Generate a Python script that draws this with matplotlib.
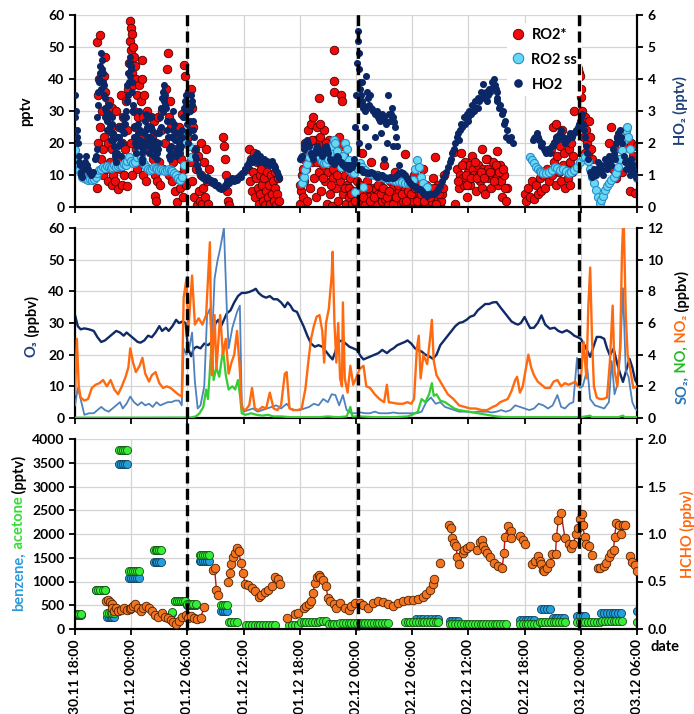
import numpy as np
import matplotlib
matplotlib.use("Agg")
import matplotlib.pyplot as plt
from matplotlib.lines import Line2D
from matplotlib.ticker import FormatStrFormatter

plt.rcParams["font.family"] = ["Lato", "DejaVu Sans"]
plt.rcParams["font.weight"] = "bold"
plt.rcParams["axes.labelweight"] = "bold"

nan = np.nan

# time axis: hours after 30.11 18:00
tick_hours = [0, 6, 12, 18, 24, 30, 36, 42, 48, 54, 60]
tick_labels = ["30.11 18:00", "01.12 00:00", "01.12 06:00", "01.12 12:00",
               "01.12 18:00", "02.12 00:00", "02.12 06:00", "02.12 12:00",
               "02.12 18:00", "03.12 00:00", "03.12 06:00"]
event_hours = [11.93, 30.25, 53.8]

# ---- panel 1: peroxy radicals ----
ro2_star = [
    (2.3, 6), (2.4, 51.7), (2.5, 20), (2.5, 35), (2.6, 40), (2.7, 53.8), (2.7, 25), (2.8, 15),
    (2.9, 30), (3.0, 18), (3.0, 10), (3.1, 22), (3.1, 41), (3.2, 36), (3.2, 47), (3.3, 12),
    (3.4, 28), (3.5, 8), (3.5, 20), (3.6, 33), (3.7, 14), (3.8, 25), (3.9, 7), (3.9, 18),
    (4.0, 31), (4.1, 10), (4.2, 22), (4.3, 8), (4.4, 30), (4.5, 15), (4.6, 5.5), (4.7, 25),
    (4.8, 12), (4.9, 35), (5.0, 20), (5.0, 7), (5.1, 28), (5.2, 10), (5.3, 18), (5.4, 33),
    (5.5, 6.5), (5.5, 24), (5.6, 14), (5.7, 37), (5.8, 45), (5.9, 52), (5.9, 58), (6.0, 56),
    (6.0, 49), (6.1, 54), (6.1, 42), (6.2, 50), (6.2, 38), (6.3, 47), (6.3, 30), (6.4, 44),
    (6.4, 25), (6.5, 40), (6.5, 18), (6.6, 35), (6.6, 12), (6.7, 28), (6.0, 20), (6.1, 10),
    (6.8, 38), (6.9, 22), (7.0, 33), (7.0, 15), (7.1, 46), (7.2, 40), (7.3, 28), (7.3, 10),
    (7.4, 35), (7.5, 20), (7.6, 8), (7.7, 30), (7.8, 18), (7.9, 25), (8.0, 12), (8.1, 28),
    (8.2, 22), (8.3, 15), (8.4, 27), (8.5, 3.5), (8.5, 10), (8.6, 2), (8.7, 20), (8.8, 8),
    (8.9, 28), (9.0, 14), (9.1, 7), (9.2, 24), (9.3, 30), (9.4, 12), (9.6, 20), (9.7, 37),
    (9.8, 43), (9.9, 48), (10.0, 28), (10.0, 10), (10.1, 33), (10.2, 18), (10.3, 25), (10.4, 8),
    (10.5, 14), (10.6, 22), (10.7, 5), (10.8, 18), (10.9, 1.5), (11.0, 10), (11.1, 25), (11.2, 6),
    (11.3, 15), (11.4, 29), (11.5, 3), (11.6, 44.5), (11.6, 12), (11.7, 41), (11.8, 20), (11.8, 7),
    (12.0, 30), (12.1, 22), (12.2, 36), (12.3, 14), (12.4, 37), (12.5, 31), (12.5, 8), (12.6, 25),
    (12.7, 3), (12.8, 18), (12.9, 12), (13.0, 0.5), (13.1, 16), (13.2, 5), (13.3, 2), (13.4, 10),
    (13.5, 20), (13.6, 1), (13.7, 6), (13.8, 14), (13.9, 3), (14.0, 18), (14.1, 8), (14.2, 1),
    (14.3, 12), (15.8, 22), (15.9, 19), (16.0, 15), (16.1, 10), (16.2, 5), (16.3, 2), (16.4, 0.5),
    (18.5, 12), (18.6, 18), (18.7, 8), (18.8, 15), (18.9, 5), (19.0, 11), (19.1, 17), (19.2, 3),
    (19.3, 9), (19.4, 14), (19.5, 6), (19.6, 1), (19.7, 10), (19.8, 4), (19.9, 12), (20.0, 7),
    (20.1, 2), (20.2, 9), (20.3, 0.5), (20.4, 5), (20.5, 11), (20.6, 3), (20.7, 7), (20.8, 1),
    (20.9, 10), (21.0, 4), (21.1, 8), (21.2, 2), (21.3, 6), (21.4, 11), (21.5, 0.5), (21.6, 4),
    (21.7, 9), (21.8, 2),
    (24.0, 1), (24.1, 5), (24.2, 10), (24.3, 3), (24.4, 15), (24.5, 8), (24.6, 20), (24.7, 12),
    (24.8, 2), (24.9, 24), (25.0, 17), (25.1, 6), (25.2, 26), (25.3, 14), (25.4, 28), (25.5, 9),
    (25.6, 21), (25.7, 3), (25.8, 25), (25.9, 16), (26.0, 11), (26.1, 34), (26.2, 22), (26.3, 5),
    (26.4, 19), (26.5, 13), (26.6, 24), (26.7, 8), (26.8, 17), (26.9, 1), (27.0, 11), (27.1, 21),
    (27.2, 4), (27.3, 15), (27.4, 0.3), (27.5, 9), (27.6, 36), (27.7, 49), (27.7, 39.5), (27.8, 18),
    (27.9, 6), (28.0, 13), (28.1, 2), (28.2, 22), (28.3, 8), (28.4, 35), (28.5, 33), (28.6, 4),
    (28.7, 16), (28.8, 10), (28.9, 1), (29.0, 7),
    (24.05, 7), (24.35, 12), (24.65, 16), (24.95, 19), (25.25, 21), (25.55, 18), (25.85, 14), (26.15, 26),
    (26.45, 9), (26.75, 20), (27.05, 16), (27.35, 7), (27.55, 12), (27.95, 10), (28.25, 15), (28.55, 19),
    (28.85, 6),
    (29.2, 3), (29.3, 6), (29.4, 9), (29.6, 1), (29.8, 5), (30.0, 12), (30.1, 8), (30.2, 2),
    (30.4, 7), (30.6, 16.8), (30.8, 4), (31.0, 0.5), (31.1, 4.5), (31.2, 8), (31.4, 3), (31.6, 14),
    (31.8, 6), (32.0, 1), (32.1, 5.5), (32.2, 10), (32.4, 4), (32.6, 7), (32.8, 2), (33.0, 13),
    (33.1, 2.5), (33.2, 5), (33.4, 0.5), (33.6, 8), (33.8, 3), (34.0, 6), (34.1, 4), (34.2, 11),
    (34.4, 1), (34.6, 5), (34.8, 9), (35.0, 2), (35.1, 6), (35.2, 16.5), (35.4, 4), (35.6, 7),
    (35.8, 0.5), (36.0, 3), (36.1, 2), (36.2, 10), (36.4, 5), (36.6, 1), (36.8, 8), (37.0, 2),
    (37.1, 6), (37.2, 12), (37.4, 4), (37.6, 0.5), (37.8, 6), (38.0, 2), (38.1, 4.5), (38.2, 9),
    (38.4, 15.7), (38.6, 3), (38.8, 7), (39.0, 0.5), (39.1, 2), (39.2, 4), (39.4, 10),
    (29.5, 4), (29.9, 2), (30.3, 5), (30.7, 3), (31.3, 6), (31.5, 2), (31.9, 3), (32.3, 7),
    (32.7, 4), (32.9, 6), (33.3, 3), (33.5, 5), (33.9, 1), (34.3, 3), (34.5, 7), (34.9, 4),
    (35.3, 2), (35.5, 5), (35.9, 4), (36.3, 6), (36.5, 2), (36.9, 4), (37.3, 2), (37.5, 7),
    (37.9, 3), (38.3, 6), (38.5, 1), (38.9, 4), (39.3, 6),
    (40.5, 17.3), (40.6, 1), (40.8, 12), (41.0, 6), (41.1, 10), (41.2, 17), (41.4, 9), (41.5, 7),
    (41.6, 14), (41.8, 3), (42.0, 11), (42.1, 13), (42.2, 7), (42.4, 16), (42.5, 12), (42.6, 10),
    (42.8, 5), (43.0, 13), (43.1, 10), (43.2, 8), (43.4, 18), (43.5, 6), (43.6, 12), (43.8, 4),
    (44.0, 15), (44.1, 12), (44.2, 9), (44.4, 6), (44.5, 10), (44.6, 14), (44.8, 11), (45.0, 17.5),
    (45.1, 9), (45.2, 7), (45.4, 13), (45.5, 8), (45.6, 3), (45.8, 10), (46.0, 2), (46.1, 6),
    (40.9, 8), (41.3, 13), (41.7, 10), (41.9, 7), (42.3, 9), (42.7, 14), (42.9, 9), (43.3, 11),
    (43.7, 9), (43.9, 15), (44.3, 11), (44.7, 8), (44.9, 13), (45.3, 11), (45.7, 12), (45.9, 6),
    (48.0, 4), (48.2, 2), (48.4, 6), (48.6, 3), (48.8, 8), (49.0, 2.5), (49.2, 7), (49.4, 4),
    (49.6, 9), (49.8, 5), (50.0, 10), (50.2, 6), (50.4, 12), (50.6, 8), (50.8, 18), (50.9, 10),
    (51.0, 25), (51.1, 14), (51.2, 20), (51.3, 7), (51.4, 26), (51.5, 16), (51.6, 22), (51.7, 11),
    (51.8, 19), (51.9, 8), (52.0, 24), (52.1, 13), (52.2, 17), (52.3, 6), (52.4, 21), (52.5, 12),
    (52.6, 9), (52.7, 18), (52.8, 14), (52.9, 7), (53.0, 20), (53.1, 11), (53.2, 16), (53.3, 30),
    (53.4, 38.6), (53.5, 46), (53.6, 44), (53.7, 43), (53.8, 42), (53.9, 41), (54.0, 37), (54.0, 34.5),
    (54.1, 30), (54.2, 26), (54.3, 22), (54.4, 17), (54.5, 28), (54.6, 24), (54.7, 20), (54.8, 16.5),
    (54.9, 27), (55.0, 22), (55.1, 18), (55.2, 15),
    (57.0, 20), (57.2, 25), (57.4, 12), (57.6, 18), (57.8, 9), (58.0, 22), (58.2, 15), (58.4, 11),
    (58.6, 19), (58.8, 24), (59.0, 14), (59.2, 5), (59.4, 20), (59.6, 16), (59.8, 4.5), (59.9, 12),
    (60.0, 19),
]

ro2_ss = [
    (0.0, 17.8), (0.2, 14), (0.4, 11.6), (0.6, 10.5), (0.8, 9.5), (1.0, 9), (1.2, 8.6), (1.4, 8.4),
    (1.6, 8.6), (1.8, 8.4), (2.0, 8.8), (2.2, 9.5), (2.4, 10.5), (2.6, 11.5), (2.8, 12), (3.0, 12.5),
    (3.2, 12.3), (3.4, 12.8), (3.6, 12.6), (3.8, 12.2), (4.0, 12.6), (4.2, 13), (4.4, 12.5), (4.6, 12.8),
    (4.8, 13.2), (5.0, 12.7), (5.2, 13.4), (5.4, 13.0), (5.6, 14.5), (5.8, 15.7), (6.0, 14.5), (6.2, 13.6),
    (6.4, 14.2), (6.6, 15.5), (6.8, 16.8), (7.0, 15.5), (7.2, 14.7), (7.4, 13.5), (7.6, 12.5), (7.8, 11.8),
    (8.0, 11.6), (8.2, 12.0), (8.4, 12.6), (8.6, 12.2), (8.8, 11.8), (9.0, 11.6), (9.2, 12), (9.4, 11.6),
    (9.6, 11.4), (9.8, 11.6), (10.0, 11.8), (10.2, 11.6), (10.4, 11.2), (10.6, 10.5), (10.8, 10), (11.0, 9),
    (11.2, 8.4), (11.4, 9.5), (11.6, 13), (11.8, 20), (12.0, 23), (12.2, 19), (12.4, 15.7),
    (24.2, 7.4), (24.4, 9.5), (24.6, 11.6), (24.8, 13.5), (25.0, 15.7), (25.2, 16.8), (25.4, 17.8), (25.6, 18.2),
    (25.8, 17.5), (26.0, 16.8), (26.2, 15.5), (26.4, 14.5), (26.6, 13.6), (26.8, 13.6), (27.0, 15), (27.2, 16.8),
    (27.4, 19), (27.6, 21), (27.8, 20), (28.0, 17.5), (28.2, 14), (28.4, 12.6), (28.6, 16), (28.8, 20),
    (29.0, 18), (29.2, 14.7), (29.4, 11.6), (29.6, 11), (29.8, 10.5), (29.9, 4.8), (30.2, 12), (30.4, 13.6),
    (30.6, 12.5), (30.8, 6.3), (31.0, 11.5), (31.3, 10.5), (31.6, 10.2), (31.9, 10), (32.2, 9.8), (32.5, 9.5),
    (32.8, 9.4), (33.1, 9.2), (33.4, 8.8), (33.7, 8.6), (34.0, 8.4), (34.3, 8.2), (34.6, 8.0), (34.9, 7.8),
    (35.2, 7.6), (35.5, 7.4), (35.8, 7.6), (36.1, 8.5), (36.3, 12), (36.5, 14.7), (36.7, 12.5), (36.9, 9.5),
    (37.2, 7.4), (37.6, 6.3),
    (48.6, 15.7), (48.8, 14.7), (49.0, 13.6), (49.2, 12.6), (49.4, 12), (49.6, 11.3), (49.8, 10.8), (50.0, 10.5),
    (50.3, 10.5), (50.6, 10.8), (50.9, 11.6), (51.2, 12.6), (51.5, 12.2), (51.8, 11.6), (52.1, 11.8), (52.4, 11.2),
    (52.7, 10.5), (53.0, 10.8), (53.3, 11.6), (53.6, 12.5), (53.9, 14), (54.2, 15.7), (54.5, 15.5), (54.8, 14.5),
    (55.0, 12), (55.2, 9.5), (55.4, 7.5), (55.6, 5.3), (55.8, 3.0), (56.0, 1.1), (56.2, 2.2), (56.4, 3.5),
    (56.6, 5.3), (56.8, 6.5), (57.0, 7.4), (57.2, 8.5), (57.5, 9.5), (57.8, 10.5), (58.0, 12.6), (58.2, 15),
    (58.4, 17.8), (58.6, 21), (58.8, 24), (58.9, 25), (59.0, 22), (59.2, 18), (59.4, 14), (59.6, 12),
    (59.8, 10.5), (60.0, 9),
]

ho2 = [
    (0.0, 3.5), (0.1, 3.0), (0.2, 2.4), (0.3, 2.0), (0.4, 1.6), (0.5, 1.3), (0.6, 1.1), (0.8, 0.95),
    (1.0, 1.2), (1.2, 1.6), (1.3, 1.3), (1.5, 1.1), (1.7, 1.0), (1.9, 1.1), (2.1, 1.5), (2.3, 1.8),
    (2.4, 2.8), (2.5, 3.6), (2.6, 4.0), (2.7, 4.4), (2.8, 4.8), (2.9, 4.6), (3.0, 4.2), (3.1, 3.8),
    (3.2, 3.4), (3.3, 3.0), (3.4, 2.7), (3.5, 3.2), (3.6, 2.9), (3.7, 2.5), (3.8, 2.1), (3.9, 2.6),
    (4.0, 2.8), (4.1, 2.3), (4.2, 1.9), (4.3, 1.6), (4.4, 1.4), (4.5, 1.7), (4.6, 2.2), (4.7, 2.5),
    (4.8, 2.0), (4.9, 1.6), (5.0, 2.4), (5.1, 2.8), (5.2, 2.3), (5.3, 2.6), (5.4, 3.0), (5.5, 3.3),
    (5.6, 3.8), (5.7, 4.2), (5.8, 4.5), (5.9, 4.7), (6.0, 4.3), (6.1, 3.6), (6.2, 3.0), (6.3, 2.5),
    (6.4, 2.0), (6.5, 1.7), (6.6, 2.1), (6.7, 2.6), (6.8, 3.0), (6.9, 2.4), (7.0, 1.9), (7.1, 1.5),
    (7.2, 1.4), (7.3, 1.8), (7.4, 2.3), (7.5, 2.7), (7.6, 2.9), (7.7, 2.5), (7.8, 2.0), (7.9, 1.7),
    (8.0, 2.2), (8.1, 2.8), (8.2, 2.4), (8.3, 1.8), (8.4, 1.6), (8.5, 2.0), (8.6, 2.3), (8.7, 1.9),
    (8.8, 1.5), (8.9, 1.8), (9.0, 2.3), (9.1, 2.8), (9.2, 3.1), (9.3, 3.4), (9.4, 3.6), (9.5, 3.8),
    (9.6, 3.5), (9.7, 3.1), (9.8, 2.7), (9.9, 2.2), (10.0, 1.8), (10.1, 1.5), (10.2, 1.7), (10.3, 2.2),
    (10.4, 2.7), (10.5, 3.0), (10.6, 2.6), (10.7, 2.1), (10.8, 1.6), (10.9, 1.8), (11.0, 2.3), (11.1, 2.0),
    (11.2, 1.7), (11.3, 1.9), (11.4, 2.4), (11.5, 2.8), (11.6, 3.1), (11.7, 3.3), (11.8, 3.5), (11.9, 3.2),
    (12.0, 2.6), (12.1, 2.0), (12.2, 2.4), (12.3, 3.0), (12.4, 3.5), (12.5, 3.3), (12.6, 2.7), (12.7, 2.2),
    (12.8, 1.8), (12.9, 1.5), (13.0, 1.3), (13.1, 1.2), (13.2, 1.1), (13.4, 1.0),
    (0.05, 2.8), (0.25, 2.2), (0.45, 1.4), (0.65, 1.0), (1.1, 1.4), (1.4, 1.2), (1.8, 1.05), (2.2, 1.6),
    (2.45, 3.2), (2.55, 3.9), (2.65, 4.2), (2.75, 3.7), (2.85, 4.3), (2.95, 3.9), (3.05, 3.5), (3.15, 3.1),
    (3.25, 2.8), (3.45, 2.4), (3.65, 3.2), (3.85, 2.3), (4.05, 2.1), (4.25, 1.7), (4.55, 1.9), (4.75, 2.2),
    (5.05, 2.0), (5.25, 2.6), (5.45, 2.8), (5.65, 3.5), (5.75, 3.9), (5.85, 4.1), (5.95, 4.4), (6.05, 3.9),
    (6.15, 3.2), (6.35, 2.2), (6.55, 1.9), (6.75, 2.3), (6.95, 2.1), (7.15, 1.7), (7.35, 2.0), (7.55, 2.4),
    (7.75, 2.2), (7.95, 1.9), (8.15, 2.5), (8.35, 2.1), (8.55, 1.8), (8.75, 1.7), (8.95, 2.0), (9.15, 2.5),
    (9.35, 3.0), (9.45, 3.3), (9.55, 3.4), (9.65, 3.2), (9.85, 2.4), (10.05, 1.6), (10.25, 1.9), (10.45, 2.4),
    (10.65, 2.3), (10.85, 1.7), (11.05, 2.1), (11.25, 1.8), (11.45, 2.2), (11.65, 2.8), (11.85, 3.0), (12.05, 2.3),
    (12.25, 2.7), (12.45, 3.2), (12.65, 2.4), (12.85, 1.6),
    (13.6, 0.95), (13.8, 0.9), (14.0, 0.85), (14.2, 0.9), (14.4, 0.8), (14.6, 0.75), (14.8, 0.8), (15.0, 0.7),
    (15.2, 0.65), (15.4, 0.6), (15.6, 0.55), (15.8, 0.6), (16.0, 0.7), (16.2, 0.8), (16.4, 0.75), (16.6, 0.85),
    (16.8, 0.9), (17.0, 0.8), (17.2, 0.9), (17.4, 0.95), (17.6, 1.0), (17.8, 1.05), (18.0, 1.1), (18.2, 1.2),
    (18.4, 1.3), (18.6, 1.4), (18.8, 1.5), (19.0, 1.45), (19.2, 1.6), (19.4, 1.7), (19.5, 1.4), (19.6, 1.55),
    (19.8, 1.6), (20.0, 1.45), (20.2, 1.5), (20.4, 1.35), (20.6, 1.4), (20.8, 1.3), (21.0, 1.45), (21.2, 1.3),
    (21.4, 1.2), (21.6, 1.1), (21.8, 0.9),
    (13.7, 0.9), (14.1, 0.95), (14.5, 0.85), (14.9, 0.7), (15.3, 0.7), (15.7, 0.6), (16.1, 0.65), (16.5, 0.85),
    (16.9, 0.85), (17.3, 0.85), (17.7, 0.95), (18.1, 1.2), (18.5, 1.25), (18.9, 1.4), (19.3, 1.5), (19.7, 1.5),
    (20.1, 1.4), (20.5, 1.45), (20.9, 1.35), (21.3, 1.25), (21.7, 1.0),
    (24.0, 1.5), (24.2, 1.6), (24.4, 1.8), (24.6, 2.0), (24.8, 2.1), (25.0, 1.9), (25.2, 1.7), (25.4, 1.5),
    (25.6, 1.7), (25.8, 1.9), (26.0, 1.8), (26.2, 1.7), (26.4, 1.6), (26.6, 1.8), (26.8, 1.9), (27.0, 1.7),
    (27.2, 1.5), (27.4, 1.4), (27.6, 1.35), (27.8, 1.5), (28.0, 1.6), (28.2, 1.45), (28.4, 1.4), (28.6, 1.3),
    (28.8, 1.25), (29.0, 1.3), (29.2, 1.2), (29.4, 1.3), (29.6, 1.25), (29.8, 1.5),
    (24.1, 1.55), (24.5, 1.9), (24.9, 2.0), (25.3, 1.6), (25.7, 1.8), (26.1, 1.75), (26.5, 1.7), (26.9, 1.8),
    (27.3, 1.45), (27.7, 1.4), (28.1, 1.55), (28.5, 1.35), (28.9, 1.3), (29.3, 1.25), (29.7, 1.35),
    (29.9, 2.5), (30.0, 3.5), (30.1, 4.5), (30.2, 5.5), (30.25, 5.2), (30.3, 4.8), (30.35, 4.3), (30.4, 3.9),
    (30.5, 3.5), (30.6, 3.3), (30.7, 3.1), (30.8, 3.2), (31.0, 3.0), (31.1, 4.1), (31.2, 3.6), (31.4, 3.2),
    (31.6, 3.1), (31.8, 3.0), (32.0, 2.9), (32.2, 3.0), (32.4, 2.8), (32.6, 2.7), (32.8, 2.9), (33.0, 2.8),
    (33.2, 2.6), (33.4, 3.5), (33.5, 2.9), (33.6, 2.7), (33.8, 3.1), (34.0, 2.8), (34.2, 2.5), (34.4, 1.9),
    (34.6, 1.3), (30.3, 2.0), (30.5, 1.2), (31.0, 2.5), (31.3, 1.9), (32.0, 2.2), (33.0, 1.5), (34.0, 1.9),
    (30.6, 3.9), (31.5, 3.5), (32.7, 2.3), (33.3, 2.0),
    (30.45, 3.7), (30.9, 3.1), (31.3, 3.4), (31.7, 3.05), (32.1, 2.95), (32.5, 2.75), (32.9, 2.85), (33.1, 2.7),
    (33.7, 2.9), (34.1, 2.65), (34.3, 2.2),
    (30.4, 1.2), (30.8, 1.1), (31.2, 1.05), (31.6, 1.1), (32.0, 1.0), (32.4, 0.95), (32.8, 1.0), (33.2, 0.9),
    (33.6, 0.95), (34.0, 0.9), (34.4, 1.0), (34.8, 1.1), (35.2, 1.0), (35.6, 0.85), (36.0, 0.7), (36.4, 0.6),
    (36.8, 0.55), (37.2, 0.45), (37.6, 0.35), (38.0, 0.4), (38.4, 0.45), (38.8, 0.55), (39.2, 0.8), (39.6, 1.1),
    (30.6, 1.15), (31.0, 1.1), (31.4, 1.05), (31.8, 1.05), (32.2, 0.95), (32.6, 1.0), (33.0, 0.95), (33.4, 0.9),
    (33.8, 0.9), (34.2, 0.95), (34.6, 1.05), (35.0, 1.05), (35.4, 0.9), (35.8, 0.75), (36.2, 0.65), (36.6, 0.55),
    (37.0, 0.5), (37.4, 0.4), (37.8, 0.4), (38.2, 0.4), (38.6, 0.5), (39.0, 0.65), (39.4, 0.95), (39.8, 1.25),
    (40.0, 1.4), (40.3, 1.7), (40.6, 2.0), (40.9, 2.3), (41.2, 2.6), (41.5, 2.8), (41.8, 2.9), (42.1, 3.0),
    (42.4, 3.2), (42.7, 3.3), (43.0, 3.4), (43.3, 3.6), (43.6, 3.85), (43.9, 3.6), (44.2, 3.7), (44.5, 3.9),
    (44.7, 4.0), (44.9, 3.7), (45.1, 3.4), (45.4, 3.2), (45.7, 3.0), (45.9, 2.7), (46.1, 2.4), (46.3, 2.1),
    (46.6, 2.2), (46.8, 2.0), (41.0, 2.1), (42.0, 2.7), (43.0, 3.1), (44.0, 3.3), (45.0, 3.6),
    (40.15, 1.5), (40.45, 1.8), (40.75, 2.2), (41.05, 2.4), (41.35, 2.5), (41.65, 2.6), (41.95, 2.8), (42.25, 2.9),
    (42.55, 3.0), (42.85, 3.1), (43.15, 3.3), (43.45, 3.4), (43.75, 3.5), (44.05, 3.5), (44.35, 3.6), (44.6, 3.75),
    (44.8, 3.8), (45.0, 3.3), (45.25, 3.1), (45.55, 2.9), (45.8, 2.6), (46.0, 2.2),
    (48.9, 2.1), (49.1, 2.2), (49.3, 2.3), (49.5, 2.1), (49.7, 1.9), (49.9, 2.0), (50.1, 1.8), (50.3, 1.7),
    (50.5, 1.8), (50.7, 1.7), (50.9, 1.9), (51.1, 2.0), (51.3, 2.2), (51.5, 2.1), (51.7, 2.2), (51.9, 2.4),
    (52.1, 2.2), (52.3, 2.0), (52.5, 2.1), (52.7, 2.2), (52.9, 2.3), (53.1, 2.2), (53.3, 2.3), (53.5, 2.4),
    (53.7, 2.5), (53.9, 2.7), (54.1, 2.9), (54.2, 2.6), (54.4, 2.2), (54.6, 1.9), (54.8, 1.5), (55.0, 1.1),
    (55.2, 0.95), (55.4, 1.2), (55.6, 1.0), (55.8, 1.4), (56.0, 1.1), (56.2, 1.3), (56.4, 1.0), (56.6, 1.5),
    (56.8, 1.2), (57.0, 1.6), (57.2, 1.3), (57.4, 1.8), (57.6, 1.5), (57.8, 2.0), (58.0, 2.3), (58.2, 2.4),
    (58.4, 2.0), (58.6, 1.6), (58.8, 1.2), (59.0, 1.4), (59.2, 1.0), (59.4, 1.5), (59.6, 1.2), (59.8, 1.0),
    (60.0, 0.9),
    (49.0, 2.15), (49.4, 2.2), (49.8, 1.95), (50.2, 1.75), (50.6, 1.75), (51.0, 1.95), (51.4, 2.15), (51.8, 2.3),
    (52.2, 2.1), (52.6, 2.15), (53.0, 2.25), (53.4, 2.35), (53.8, 2.6), (54.0, 2.8), (54.3, 2.4), (54.7, 1.7),
    (55.1, 1.0), (55.5, 1.1), (55.9, 1.25), (56.3, 1.15), (56.7, 1.35), (57.1, 1.45), (57.5, 1.65), (57.9, 2.15),
    (58.3, 2.2), (58.7, 1.4), (59.1, 1.2), (59.5, 1.35), (59.9, 0.95),
]

# ---- panel 2: trace gases ----
o3 = [
    (0, 32.5), (0.3, 29), (0.6, 28), (1.0, 28.3), (1.5, 28), (2.0, 27.5), (2.4, 25.5), (2.8, 24),
    (3.2, 24.5), (3.6, 25.5), (4.0, 26.5), (4.4, 27.5), (4.8, 27), (5.2, 26), (5.5, 27), (5.9, 26),
    (6.3, 25), (6.7, 24), (7.0, 23.8), (7.4, 24.5), (7.8, 26), (8.2, 25.5), (8.6, 27), (9.0, 29),
    (9.3, 27.5), (9.7, 28.5), (10.0, 27.5), (10.4, 29), (10.8, 31), (11.1, 30), (11.5, 30.5), (11.8, 30),
    (12.0, 24), (12.2, 21), (12.4, 19.5), (12.7, 22), (13.0, 22.5), (13.4, 22), (13.8, 23.5), (14.2, 23),
    (14.6, 24), (15.0, 30), (15.3, 31), (15.6, 29), (15.9, 31), (16.2, 33), (16.6, 34), (17.0, 36.5),
    (17.4, 38.5), (17.8, 39.5), (18.2, 39.5), (18.6, 39.8), (19.0, 40.3), (19.3, 40.8), (19.6, 39.5), (20.0, 38.5),
    (20.4, 38), (20.8, 38.5), (21.2, 37.5), (21.6, 37.5), (22.0, 36.5), (22.4, 35), (22.7, 36.5), (23.0, 35.5),
    (23.3, 34), (23.7, 33.5), (24.0, 31.5), (24.4, 29), (24.8, 26), (25.2, 23.5), (25.6, 22.5), (26.0, 23),
    (26.4, 22.5), (26.8, 21), (27.2, 19.5), (27.5, 18.5), (27.8, 21), (28.1, 24), (28.5, 24.5), (28.9, 23.5),
    (29.3, 22.5), (29.7, 22), (30.1, 21.5), (30.5, 19.5), (30.8, 18.5), (31.2, 19), (31.6, 19.5), (32.0, 20),
    (32.4, 20.5), (32.8, 21.5), (33.3, 20.5), (33.7, 21.5), (34.0, 22), (34.4, 23), (34.8, 23.5), (35.2, 24),
    (35.5, 24.5), (35.9, 23.5), (36.3, 22), (36.6, 21.5), (37.0, 21), (37.4, 20), (37.8, 19.5), (38.2, 18.7),
    (38.6, 20), (39.0, 23), (39.4, 24.5), (39.8, 26), (40.2, 27.5), (40.6, 29), (41.0, 30), (41.4, 30.3),
    (41.8, 31), (42.2, 32), (42.6, 32.4), (43.0, 34), (43.4, 35), (43.8, 36), (44.2, 36), (44.6, 36.5),
    (45.0, 36.6), (45.4, 35), (45.8, 33.5), (46.2, 32), (46.6, 30.5), (47.0, 29.8), (47.3, 29.5), (47.6, 30),
    (48.0, 31.9), (48.3, 30), (48.6, 28.4), (49.0, 28.5), (49.4, 30), (49.8, 32.4), (50.2, 29.5), (50.7, 28.2),
    (51.2, 28.5), (51.6, 27.5), (52.0, 27), (52.5, 27.7), (52.9, 27), (53.3, 26), (53.6, 25.6), (54.0, 25),
    (54.4, 23), (54.8, 20.5), (55.0, 19.3), (55.3, 22), (55.7, 25.6), (56.1, 25.6), (56.5, 25), (56.8, 22),
    (57.1, 19.8), (57.5, 21.9), (57.9, 17), (58.2, 14), (58.5, 11.4), (58.8, 14.5), (59.2, 18.7), (59.5, 16),
    (59.8, 12), (60.0, 11),
]

so2 = [
    (0, 0.8), (0.3, 1.9), (0.6, 1.2), (1.0, 0.2), (1.5, 0.3), (2.0, 0.3), (2.4, 0.5), (2.8, 0.7),
    (3.2, 0.5), (3.6, 0.4), (4.0, 0.6), (4.4, 0.8), (4.8, 1.0), (5.1, 0.6), (5.5, 0.9), (5.9, 1.35),
    (6.3, 1.0), (6.7, 0.8), (7.1, 1.0), (7.5, 0.8), (7.9, 0.9), (8.3, 0.7), (8.7, 1.0), (9.1, 0.8),
    (9.5, 0.9), (9.9, 1.0), (10.3, 1.0), (10.7, 1.1), (11.1, 1.1), (11.4, 0.8), (11.6, 4.4), (11.9, 4.0),
    (12.2, 4.4), (12.5, 5.4), (12.8, 2.3), (13.1, 0.6), (13.4, 0.8), (13.8, 2.0), (14.1, 6.5), (14.4, 6.9),
    (14.6, 4.4), (14.9, 8.8), (15.2, 9.9), (15.5, 10.7), (15.9, 12), (16.2, 7.0), (16.4, 4.4), (16.8, 5.7),
    (17.3, 6.7), (17.6, 7.1), (17.8, 1.0), (18.0, 0.4), (18.5, 0.5), (19.0, 0.6), (19.5, 0.4), (20.0, 0.5),
    (20.5, 0.6), (21.0, 0.7), (21.5, 0.8), (22.0, 0.6), (22.6, 0.9), (23.0, 0.6), (23.5, 0.5), (24.0, 0.5),
    (24.5, 0.6), (25.0, 0.7), (25.5, 0.9), (26.0, 0.8), (26.5, 1.2), (27.0, 1.0), (27.4, 1.5), (27.8, 1.45),
    (28.2, 0.8), (28.6, 1.45), (29.0, 0.5), (29.5, 0.3), (30.0, 0.3), (30.5, 0.35), (31.0, 0.3), (31.5, 0.3),
    (32.0, 0.4), (32.5, 0.3), (33.0, 0.3), (33.5, 0.3), (34.0, 0.35), (34.5, 0.3), (35.0, 0.3), (35.5, 0.3),
    (36.0, 0.3), (36.5, 0.3), (37.0, 0.4), (37.5, 1.0), (38.0, 1.3), (38.5, 0.9), (39.0, 1.0), (39.5, 0.7),
    (40.0, 0.6), (40.5, 0.5), (41.0, 0.4), (41.5, 0.4), (42.0, 0.4), (42.5, 0.35), (43.0, 0.4), (43.5, 0.4),
    (44.0, 0.4), (44.5, 0.35), (45.0, 0.4), (45.5, 0.5), (46.0, 0.4), (46.5, 0.5), (47.0, 0.8), (47.5, 0.7),
    (48.0, 0.6), (48.5, 0.5), (49.0, 0.6), (49.5, 0.9), (50.0, 0.8), (50.5, 0.6), (51.0, 0.8), (51.5, 1.45),
    (51.9, 0.7), (52.3, 0.6), (52.8, 0.9), (53.2, 1.0), (53.6, 3.8), (53.9, 1.9), (54.2, 2.0), (54.7, 3.1),
    (55.0, 1.2), (55.5, 0.8), (56.0, 0.7), (56.5, 0.6), (57.0, 1.0), (57.3, 3.6), (57.6, 1.5), (57.9, 2.1),
    (58.2, 4.0), (58.5, 8.2), (58.8, 3.0), (59.1, 2.6), (59.5, 1.0), (59.8, 0.6), (60.0, 0.5),
]

no = [
    (0, 0.02), (4, 0.02), (8, 0.02), (12.3, 0.03), (12.9, 0.1), (13.3, 0.3), (13.7, 0.7), (14.0, 1.8),
    (14.2, 1.2), (14.4, 3.0), (14.6, 5.0), (14.8, 2.4), (15.1, 3.2), (15.4, 2.6), (15.8, 4.3), (16.1, 2.7),
    (16.4, 1.8), (16.8, 2.0), (17.1, 1.8), (17.4, 2.4), (17.6, 1.5), (17.8, 0.3), (18.2, 0.2), (18.8, 0.3),
    (19.4, 0.2), (20.0, 0.15), (20.6, 0.2), (21.2, 0.1), (22.0, 0.1), (23.0, 0.05), (24.0, 0.05), (25.0, 0.05),
    (26.0, 0.05), (27.0, 0.1), (28.0, 0.05), (29.0, 0.1), (29.4, 0.7), (29.6, 0.1), (30.5, 0.1), (32.0, 0.05),
    (34.0, 0.05), (35.5, 0.1), (36.0, 0.2), (36.6, 0.4), (37.0, 1.2), (37.4, 1.0), (37.8, 1.5), (38.1, 2.2),
    (38.3, 1.4), (38.6, 1.5), (39.0, 1.1), (39.5, 1.0), (40.0, 0.8), (40.5, 0.6), (41.0, 0.5), (42.0, 0.4),
    (43.0, 0.3), (44.0, 0.2), (45.0, 0.1), (46.0, 0.05), (50.0, 0.05), (54.0, 0.05), (55.0, 0.15), (55.2, 0.05),
    (58.0, 0.05), (58.5, 0.15), (58.7, 0.05), (60.0, 0.05),
]

no2 = [
    (0, 1.5), (0.2, 5.0), (0.4, 2.0), (0.6, 1.3), (1.0, 1.1), (1.4, 1.2), (1.8, 1.9), (2.2, 2.1),
    (2.6, 2.2), (3.0, 2.4), (3.4, 2.0), (3.8, 2.4), (4.2, 1.8), (4.6, 1.5), (5.0, 2.0), (5.4, 2.6),
    (5.7, 3.2), (5.9, 4.4), (6.2, 3.5), (6.5, 2.9), (6.9, 3.3), (7.2, 3.8), (7.5, 2.8), (7.9, 2.3),
    (8.2, 2.7), (8.6, 2.9), (9.0, 2.2), (9.4, 1.9), (9.8, 2.0), (10.2, 1.9), (10.6, 1.7), (11.0, 1.5),
    (11.4, 1.35), (11.6, 7.6), (11.9, 8.8), (12.1, 5.5), (12.5, 9.0), (12.8, 5.9), (13.2, 6.3), (13.6, 5.9),
    (14.0, 6.5), (14.4, 11.1), (14.6, 2.7), (14.9, 6.5), (15.1, 3.1), (15.5, 6.5), (15.8, 4.0), (16.1, 5.0),
    (16.4, 2.8), (16.7, 3.5), (17.0, 4.0), (17.3, 5.5), (17.6, 3.0), (17.8, 0.6), (18.2, 0.5), (18.6, 0.8),
    (18.9, 1.9), (19.2, 0.6), (19.6, 0.5), (20.0, 0.7), (20.4, 0.6), (20.8, 1.6), (21.2, 0.6), (21.6, 0.5),
    (22.0, 0.8), (22.4, 2.8), (22.6, 2.9), (22.9, 0.6), (23.3, 0.5), (23.8, 0.5), (24.2, 0.6), (24.6, 1.85),
    (24.9, 3.5), (25.2, 5.0), (25.5, 5.8), (25.8, 6.4), (26.1, 6.5), (26.4, 5.5), (26.6, 3.5), (26.8, 6.0),
    (27.1, 6.9), (27.4, 9.0), (27.5, 10.5), (27.7, 6.0), (27.9, 3.5), (28.1, 6.0), (28.3, 2.5), (28.5, 2.0),
    (28.6, 7.3), (28.8, 2.5), (29.1, 1.6), (29.4, 3.3), (29.7, 2.1), (30.0, 2.5), (30.4, 3.1), (30.8, 3.3),
    (31.1, 2.0), (31.5, 1.9), (32.0, 1.5), (32.5, 1.2), (33.0, 1.0), (33.3, 2.1), (33.5, 1.0), (34.0, 0.95),
    (34.5, 0.9), (35.0, 0.9), (35.5, 1.0), (35.9, 0.9), (36.2, 1.2), (36.5, 4.4), (36.7, 5.2), (36.9, 2.5),
    (37.2, 4.0), (37.6, 3.4), (37.9, 5.0), (38.1, 6.2), (38.3, 3.6), (38.6, 2.7), (39.0, 2.3), (39.4, 1.9),
    (39.8, 1.5), (40.4, 1.2), (41.0, 0.8), (41.6, 0.7), (42.2, 0.6), (42.8, 0.6), (43.4, 0.5), (44.0, 0.5),
    (44.6, 0.7), (45.0, 0.8), (45.4, 1.0), (45.8, 1.1), (46.2, 1.2), (46.6, 1.7), (47.0, 2.4), (47.2, 2.6),
    (47.5, 1.6), (47.8, 2.0), (48.1, 3.0), (48.4, 4.0), (48.7, 3.2), (49.0, 2.7), (49.4, 2.3), (49.8, 2.1),
    (50.2, 1.9), (50.7, 1.9), (51.1, 2.3), (51.5, 2.4), (51.9, 2.0), (52.3, 2.2), (52.7, 2.1), (53.1, 2.2),
    (53.4, 2.3), (53.7, 2.0), (54.0, 2.4), (54.3, 4.8), (54.6, 2.5), (54.8, 7.0), (55.0, 9.5), (55.2, 5.0),
    (55.4, 2.0), (55.7, 1.3), (56.0, 1.2), (56.4, 1.2), (56.8, 1.3), (57.1, 3.5), (57.4, 7.1), (57.6, 3.0),
    (57.9, 2.0), (58.2, 4.5), (58.4, 10.5), (58.5, 12), (58.6, 12), (58.8, 6.5), (59.0, 4.0), (59.3, 3.0),
    (59.6, 1.9), (60.0, 2.0),
]

# ---- panel 3: VOCs ----
benzene = [
    (0.0, 300), (0.2, 300), (0.4, 300), (0.6, 300),
    (2.2, 815), (2.45, 815), (2.7, 815), (2.95, 815), (3.2, 815),
    (3.4, 252), (3.6, 252), (3.8, 252), (4.0, 252), (4.2, 252),
    (4.7, 3467), (4.9, 3467), (5.1, 3467), (5.3, 3467), (5.5, 3467),
    (5.8, 1072), (6.0, 1072), (6.2, 1072), (6.4, 1072), (6.6, 1072), (6.8, 1072),
    (8.4, 1408), (8.6, 1408), (8.8, 1408), (9.0, 1408), (9.2, 1408),
    (10.4, 340),
    (10.7, 585), (10.9, 585), (11.1, 585), (11.3, 585), (11.5, 585), (11.7, 585),
    (12.0, 500), (12.2, 500), (12.4, 500), (12.6, 500), (12.9, 500),
    (13.3, 1436), (13.5, 1436), (13.7, 1436), (13.9, 1436), (14.1, 1436), (14.3, 1436),
    (15.6, 371), (15.8, 371), (16.0, 371), (16.2, 371),
    (36.4, 217), (36.8, 217), (37.2, 217), (37.6, 217), (38.0, 217), (38.4, 217), (38.8, 217),
    (40.0, 161), (40.3, 161), (40.6, 161), (40.9, 161),
    (47.5, 189), (47.8, 189), (48.1, 189), (48.4, 189), (48.7, 189), (49.0, 189),
    (49.8, 420), (50.1, 420), (50.4, 420), (50.7, 420),
    (51.0, 231), (51.3, 231), (51.6, 231), (51.9, 231), (52.2, 231),
    (53.6, 280), (53.9, 280), (54.2, 280), (54.5, 280),
    (56.2, 336), (56.5, 336), (56.8, 336), (57.1, 336), (57.4, 336), (57.7, 336), (58.0, 336), (58.3, 336),
    (60.0, 385),
]

acetone = [
    (0.0, 310), (0.2, 310), (0.4, 310), (0.6, 310),
    (2.2, 830), (2.45, 830), (2.7, 830), (2.95, 830), (3.2, 830),
    (3.4, 336), (3.6, 336), (3.8, 336), (4.0, 336), (4.2, 336),
    (4.7, 3769), (4.9, 3769), (5.1, 3769), (5.3, 3769), (5.5, 3769),
    (5.8, 1212), (6.0, 1212), (6.2, 1212), (6.4, 1212), (6.6, 1212), (6.8, 1212),
    (8.4, 1667), (8.6, 1667), (8.8, 1667), (9.0, 1667), (9.2, 1667),
    (10.4, 357),
    (10.7, 595), (10.9, 595), (11.1, 595), (11.3, 595), (11.5, 595), (11.7, 595),
    (12.0, 525), (12.2, 525), (12.4, 525), (12.6, 525), (12.9, 525),
    (13.3, 1562), (13.5, 1562), (13.7, 1562), (13.9, 1562), (14.1, 1562), (14.3, 1562),
    (15.6, 497), (15.8, 497), (16.0, 497), (16.2, 497),
    (16.4, 147), (16.7, 147), (17.0, 147), (17.3, 147),
    (18.3, 84), (18.6, 84), (18.9, 84), (19.2, 84), (19.5, 84), (19.8, 84), (20.1, 84), (20.4, 84),
    (20.7, 84), (21.0, 84), (21.3, 84),
    (22.9, 84), (23.2, 84), (23.5, 84), (23.8, 84),
    (24.1, 147), (24.4, 147), (24.7, 147), (25.0, 147), (25.3, 147), (25.6, 147), (25.9, 147),
    (26.2, 161), (26.5, 161), (26.8, 161),
    (27.1, 112), (27.4, 112), (27.7, 112), (28.0, 112),
    (28.3, 120), (28.6, 120), (28.9, 120), (29.2, 120), (29.5, 120), (29.8, 120), (30.1, 120), (30.4, 120),
    (30.7, 120), (31.0, 120), (31.3, 120), (31.6, 120), (31.9, 120), (32.2, 120), (32.5, 120), (32.8, 120),
    (33.1, 120), (33.4, 120),
    (35.2, 154), (35.5, 154), (35.8, 154), (36.1, 154), (36.4, 154), (36.7, 154), (37.0, 154), (37.3, 154),
    (37.6, 154), (37.9, 154), (38.2, 154), (38.5, 154), (38.8, 154),
    (40.0, 105), (40.3, 105), (40.6, 105), (40.9, 105), (41.2, 105), (41.5, 105), (41.8, 105), (42.1, 105),
    (42.4, 105), (42.7, 105), (43.0, 105), (43.3, 105), (43.6, 105), (43.9, 105), (44.2, 105), (44.5, 105),
    (44.8, 105), (45.1, 105), (45.4, 105), (45.7, 105), (46.0, 105),
    (47.5, 112), (47.8, 112), (48.1, 112), (48.4, 112), (48.7, 112), (49.0, 112), (49.3, 112),
    (49.6, 147), (49.9, 147), (50.2, 147), (50.5, 147), (50.8, 147),
    (51.1, 154), (51.4, 154), (51.7, 154), (52.0, 154), (52.3, 154),
    (53.6, 140), (53.9, 140), (54.2, 140), (54.5, 140),
    (54.8, 147), (55.1, 147), (55.4, 147), (55.7, 147), (56.0, 147),
    (56.3, 168), (56.6, 168), (56.9, 168), (57.2, 168), (57.5, 168), (57.8, 168), (58.1, 168), (58.4, 168),
    (60.0, 147),
]

hcho = [
    (3.3, 0.29), (3.5, 0.31), (3.7, 0.28), (3.9, 0.26), (4.0, 0.22), (4.2, 0.19), (4.4, 0.22), (4.6, 0.19),
    (4.9, 0.2), (5.2, 0.22), (5.6, 0.2), (5.9, 0.21), (6.0, 0.22), (6.2, 0.24), (6.4, 0.26), (6.7, 0.22),
    (7.0, 0.19), (7.3, 0.22), (7.6, 0.24), (7.9, 0.22), (8.2, 0.19), (8.5, 0.15), (8.9, 0.13), (9.3, 0.17),
    (9.6, 0.13), (9.9, 0.12), (10.2, 0.09), (10.5, 0.07), (10.8, 0.05), (11.1, 0.08), (11.4, 0.13), (11.8, 0.15),
    (12.1, 0.12), (12.4, 0.14), (12.7, 0.12), (13.0, 0.11), (13.4, 0.12), (13.8, 0.23), (14.2, nan),
    (14.7, 0.62), (14.9, 0.64), (15.1, 0.41), (15.3, 0.36), (15.8, nan),
    (16.3, 0.5), (16.5, 0.59), (16.7, 0.68), (16.9, 0.76), (17.1, 0.8), (17.3, 0.85), (17.5, 0.82), (17.7, 0.69),
    (17.9, 0.59), (18.2, 0.47), (18.5, 0.46), (18.9, 0.43), (19.2, 0.4), (19.6, 0.34), (19.9, 0.36), (20.3, 0.39),
    (20.6, 0.41), (21.0, 0.45), (21.3, 0.55), (21.7, 0.53), (21.9, 0.47), (22.2, nan), (22.6, 0.12), (23.0, nan),
    (23.5, 0.16), (23.8, 0.17), (24.4, 0.22), (24.7, 0.24), (25.0, 0.26), (25.2, 0.29), (25.4, 0.38), (25.6, 0.48),
    (25.8, 0.55), (26.0, 0.57), (26.2, 0.55), (26.5, 0.52), (26.8, 0.45), (27.0, 0.33), (27.2, 0.29), (27.6, 0.26),
    (27.9, 0.22), (28.3, 0.27), (28.8, 0.22), (29.2, 0.2), (29.5, 0.24), (29.9, 0.27), (30.4, 0.27), (30.8, 0.25),
    (31.3, 0.22), (31.8, 0.27), (32.4, 0.29), (32.9, 0.28), (33.4, 0.26), (33.9, 0.24), (34.5, 0.27), (35.0, 0.29),
    (35.6, 0.31), (36.1, 0.31), (36.6, 0.32), (37.2, 0.34), (37.5, 0.37), (37.9, 0.41), (38.2, 0.47), (38.3, 0.53),
    (38.6, nan), (39.0, 0.69), (39.4, nan),
    (39.9, 1.1), (40.1, 1.06), (40.3, 0.96), (40.5, 0.91), (40.7, 0.87), (40.8, 0.76), (41.0, 0.68), (41.4, 0.8),
    (41.5, 0.83), (41.8, 0.85), (42.2, 0.87), (42.9, 0.83), (43.2, 0.92), (43.4, 0.94), (43.6, 0.87), (43.8, 0.83),
    (44.0, 0.8), (44.3, 0.76), (44.7, 0.7), (45.2, 0.66), (45.6, 0.64), (45.8, 0.8), (45.9, 0.97), (46.2, 1.08),
    (46.5, 1.03), (46.6, 0.96), (47.0, nan), (47.5, 0.98), (47.8, 0.94), (48.0, 0.89), (48.4, nan),
    (48.8, 0.68), (49.1, 0.72), (49.4, 0.77), (49.6, 0.72), (49.8, 0.68), (50.0, 0.62), (50.1, 0.61), (50.4, 0.64),
    (50.7, 0.69), (50.9, 0.79), (51.3, 0.79), (51.4, 0.97), (51.6, 1.15), (51.9, 1.22), (52.3, 0.96), (52.7, 0.89),
    (53.0, 0.85), (53.2, 0.9), (53.5, 1.0), (53.7, 1.06), (53.9, 1.16), (54.1, 1.21), (54.2, 1.1), (54.4, 0.97),
    (54.6, 0.9), (54.9, 0.87), (55.2, 0.78), (55.5, nan), (55.8, 0.64), (56.1, 0.64), (56.5, 0.66), (56.7, 0.69),
    (57.0, 0.76), (57.2, 0.8), (57.5, 0.83), (57.6, 0.97), (57.8, 1.12), (58.1, 1.1), (58.3, 1.0), (58.5, 1.1),
    (58.7, 1.09), (59.0, nan), (59.3, 0.77), (59.5, 0.71), (59.8, 0.67), (60.0, 0.61),
]

# colours
C_RO2 = "#f00a0a"
C_RO2SS = "#66d8f2"
C_HO2 = "#0b2766"
C_O3 = "#0f2a66"
C_SO2 = "#4f81bd"
C_NO = "#33cc33"
C_NO2 = "#ff6a10"
C_BENZ = "#22a0dd"
C_ACET = "#35ee35"
C_HCHO = "#f27420"
GRID = "#d4d4d4"


def split(pairs):
    a = np.array(pairs, dtype=float)
    return a[:, 0], a[:, 1]


def style_axis(ax, yticks, show_x_labels=False):
    ax.set_xlim(0, 60)
    ax.set_xticks(tick_hours)
    if show_x_labels:
        ax.set_xticklabels(tick_labels, rotation=90, fontsize=9.5, fontweight="bold")
    else:
        ax.set_xticklabels([])
    ax.set_yticks(yticks)
    ax.set_ylim(yticks[0], yticks[-1])
    ax.grid(True, color=GRID, linewidth=0.9)
    ax.set_axisbelow(True)
    ax.spines["top"].set_visible(False)
    for s in ("left", "right", "bottom"):
        ax.spines[s].set_linewidth(1.5)
    ax.tick_params(direction="out", length=4, width=1.3, labelsize=10)
    for lab in ax.get_yticklabels():
        lab.set_fontweight("bold")


def style_right(axr, yticks):
    axr.set_ylim(yticks[0], yticks[-1])
    axr.set_yticks(yticks)
    axr.spines["top"].set_visible(False)
    for s in ("left", "right", "bottom"):
        axr.spines[s].set_linewidth(1.5)
    axr.tick_params(direction="out", length=4, width=1.3, labelsize=10)
    for lab in axr.get_yticklabels():
        lab.set_fontweight("bold")


def stacked_label(ax, x_fig, y_fig, parts, size=10.5):
    """Vertical label built from coloured pieces, read bottom to top."""
    prev = None
    for text, color in parts:
        if prev is None:
            prev = ax.annotate(text, xy=(x_fig, y_fig), xycoords="figure fraction",
                               rotation=90, ha="center", va="bottom", color=color,
                               fontsize=size, fontweight="bold", annotation_clip=False)
        else:
            prev = ax.annotate(text, xy=(0.5, 1.0), xycoords=prev,
                               rotation=90, ha="center", va="bottom", color=color,
                               fontsize=size, fontweight="bold", annotation_clip=False)


W_PX, H_PX = 694, 714
fig = plt.figure(figsize=(W_PX / 100, H_PX / 100), dpi=100)
left, width = 75 / W_PX, 562 / W_PX
ax1 = fig.add_axes([left, 1 - 207 / H_PX, width, 192 / H_PX])
ax2 = fig.add_axes([left, 1 - 418 / H_PX, width, 190 / H_PX])
ax3 = fig.add_axes([left, 1 - 629 / H_PX, width, 190 / H_PX])

# ---- panel 1 ----
t, v = split(ro2_star)
ax1.scatter(t, v, s=38, facecolor=C_RO2, edgecolor="#4a0000", linewidth=0.6, zorder=3)
t, v = split(ro2_ss)
ax1.scatter(t, v, s=34, facecolor=C_RO2SS, edgecolor="#2a8ccc", linewidth=0.8, zorder=4)
style_axis(ax1, [0, 10, 20, 30, 40, 50, 60])
ax1.set_ylabel("pptv", fontsize=10.5, fontweight="bold")
ax1.yaxis.set_label_coords(-0.075, 0.5)

ax1r = ax1.twinx()
t, v = split(ho2)
ax1r.scatter(t, v, s=26, color=C_HO2, linewidth=0, zorder=5)
style_right(ax1r, [0, 1, 2, 3, 4, 5, 6])
ax1r.set_ylabel("HO₂ (pptv)", color="#1f3f7a", fontsize=10.5, fontweight="bold")
ax1r.yaxis.set_label_coords(1.064, 0.5)

handles = [
    Line2D([], [], ls="", marker="o", ms=7.5, mfc=C_RO2, mec="#4a0000", mew=0.6, label="RO2*"),
    Line2D([], [], ls="", marker="o", ms=7.5, mfc=C_RO2SS, mec="#2a8ccc", mew=0.8, label="RO2 ss"),
    Line2D([], [], ls="", marker="o", ms=5.2, mfc=C_HO2, mec=C_HO2, label="HO2"),
]
leg = ax1r.legend(handles=handles, loc="upper left", bbox_to_anchor=(0.755, 0.995),
                  frameon=True, framealpha=1, edgecolor="none", facecolor="white",
                  handlelength=1.0, handletextpad=0.4, labelspacing=0.75,
                  borderpad=0.3, prop={"weight": "bold", "size": 10.5})
leg.set_zorder(10)

# ---- panel 2 ----
t, v = split(o3)
ax2.plot(t, v, color=C_O3, lw=1.7, zorder=3)
style_axis(ax2, [0, 10, 20, 30, 40, 50, 60])
ax2r = ax2.twinx()
t, v = split(so2)
ax2r.plot(t, v, color=C_SO2, lw=1.3, zorder=3)
t, v = split(no)
ax2r.plot(t, v, color=C_NO, lw=1.6, zorder=4)
t, v = split(no2)
ax2r.plot(t, v, color=C_NO2, lw=1.7, zorder=5)
style_right(ax2r, [0, 2, 4, 6, 8, 10, 12])
stacked_label(ax2, 32 / W_PX, 1 - 357 / H_PX, [("O₃", "#1f3f7a"), (" (ppbv)", "black")])
stacked_label(ax2, 682 / W_PX, 1 - 404 / H_PX,
              [("SO₂,", "#2e75b6"), (" NO,", "#22bb22"), (" NO₂", C_NO2), (" (ppbv)", "black")])

# ---- panel 3 ----
t, v = split(benzene)
ax3.scatter(t, v, s=34, facecolor=C_BENZ, edgecolor="#10405a", linewidth=0.6, zorder=3)
t, v = split(acetone)
ax3.scatter(t, v, s=34, facecolor=C_ACET, edgecolor="#145214", linewidth=0.6, zorder=4)
style_axis(ax3, [0, 500, 1000, 1500, 2000, 2500, 3000, 3500, 4000], show_x_labels=True)
ax3r = ax3.twinx()
t, v = split(hcho)
ax3r.plot(t, v, color="#cc1010", lw=1.0, zorder=3)
ax3r.scatter(t, v, s=38, facecolor=C_HCHO, edgecolor="#4a2000", linewidth=0.6, zorder=4)
style_right(ax3r, [0.0, 0.5, 1.0, 1.5, 2.0])
ax3r.yaxis.set_major_formatter(FormatStrFormatter("%.1f"))
for lab in ax3r.get_yticklabels():
    lab.set_fontweight("bold")
ax3r.set_ylabel("HCHO (ppbv)", color=C_NO2, fontsize=10.5, fontweight="bold")
ax3r.yaxis.set_label_coords(1.077, 0.5)
stacked_label(ax3, 19 / W_PX, 1 - 611 / H_PX,
              [("benzene,", "#2e9bda"), (" acetone", "#33dd33"), (" (pptv)", "black")])
fig.text(665 / W_PX, 1 - 647 / H_PX, "date", fontsize=10.5, fontweight="bold",
         ha="center", va="center")

# vertical event markers spanning all panels
to_fig = fig.transFigure.inverted()
y_top = 1 - 13 / H_PX
y_bot = 1 - 630 / H_PX
for eh in event_hours:
    xf = to_fig.transform(ax1.transData.transform((eh, 0)))[0]
    fig.add_artist(Line2D([xf, xf], [y_bot, y_top], transform=fig.transFigure,
                          color="black", lw=2.4, linestyle=(0, (3.3, 1.6)), zorder=20))

fig.savefig("out.png", dpi=100)
